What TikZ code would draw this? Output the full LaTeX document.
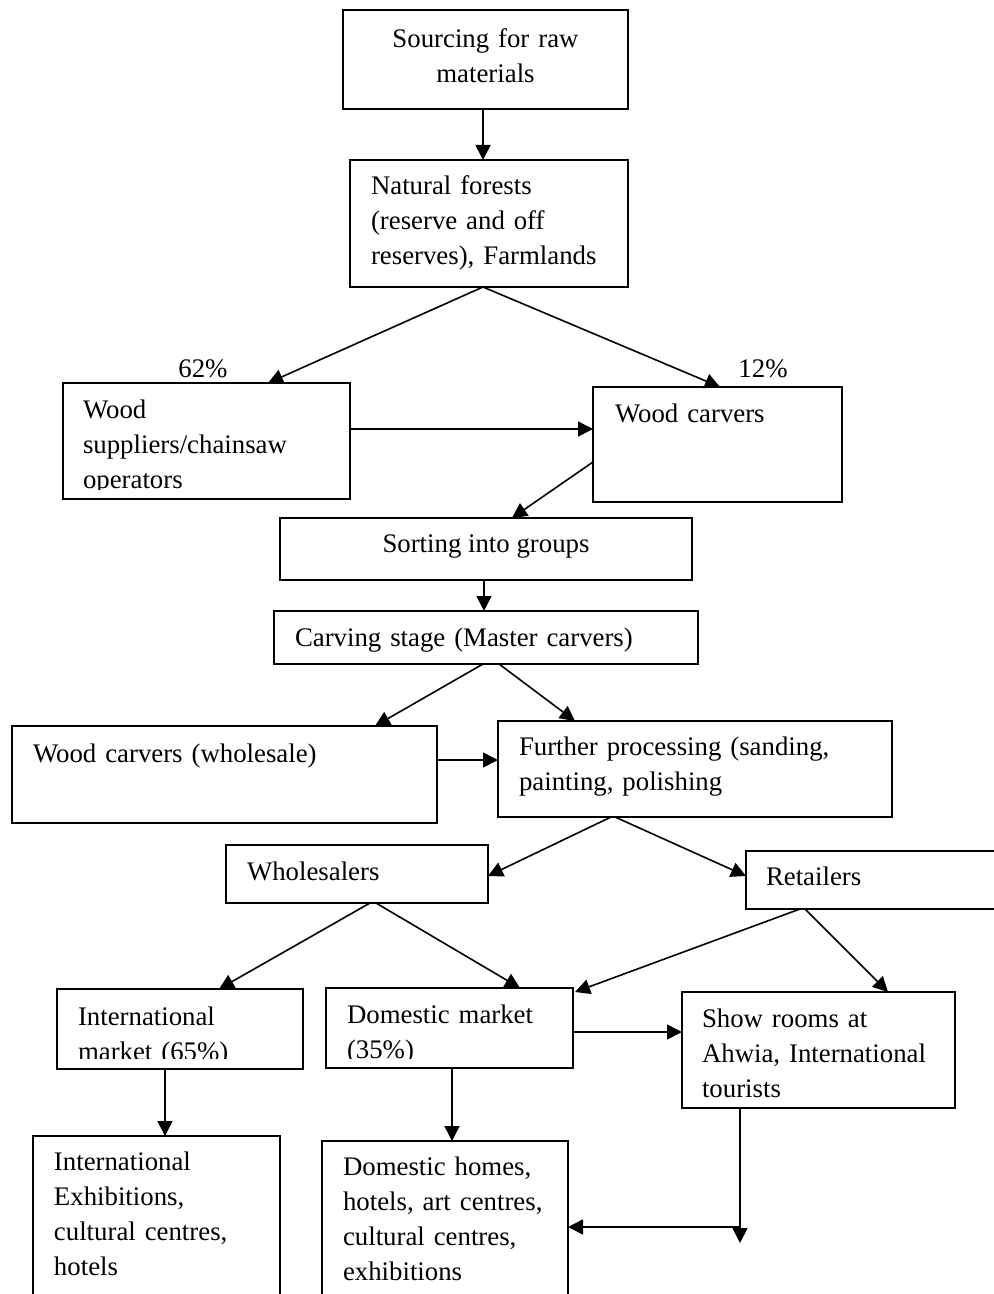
\documentclass[tikz,border=0pt]{standalone}
\usepackage{fontspec}
\setmainfont{Liberation Serif}
\usetikzlibrary{calc,arrows.meta}
\begin{document}
\begin{tikzpicture}[x=0.5pt,y=-0.5pt,
  box/.style={draw, line width=0.8pt, inner sep=0pt, outer sep=0pt, anchor=north west},
  txt/.style={inner sep=0pt, outer sep=0pt, anchor=base west, align=left, text width=260pt, font=\fontsize{13.4}{17.5}\selectfont},
  ctxt/.style={inner sep=0pt, outer sep=0pt, anchor=base, align=center, font=\fontsize{13.4}{17.5}\selectfont},
  conn/.style={line width=0.8pt, -{Triangle[length=7.5pt,width=7.5pt]}},
  lab/.style={inner sep=0pt, outer sep=0pt, anchor=base, font=\fontsize{13.4}{17.5}\selectfont}]
\useasboundingbox (0,0) rectangle (993,1294);
% boxes
\node[box, minimum width=142.5pt, minimum height=49.5pt] (b1) at (343,10) {};
\node[box, minimum width=139pt, minimum height=63.5pt] (b2) at (350,160) {};
\node[box, minimum width=143.5pt, minimum height=58pt] (b3) at (63,383) {};
\node[box, minimum width=124.5pt, minimum height=57.5pt] (b4) at (593,387) {};
\node[box, minimum width=206pt, minimum height=31pt] (b5) at (280,518) {};
\node[box, minimum width=212pt, minimum height=26.5pt] (b6) at (274,611) {};
\node[box, minimum width=212.5pt, minimum height=48.5pt] (b7) at (12,726) {};
\node[box, minimum width=197pt, minimum height=48pt] (b8) at (498,721) {};
\node[box, minimum width=131pt, minimum height=29pt] (b9) at (226,845) {};
\node[box, minimum width=132pt, minimum height=29pt] (b10) at (746,851) {};
\node[box, minimum width=123pt, minimum height=40pt] (b11) at (57,989) {};
\node[box, minimum width=123.5pt, minimum height=40pt] (b12) at (326,988) {};
\node[box, minimum width=136.5pt, minimum height=58pt] (b13) at (682,992) {};
\node[box, minimum width=123.5pt, minimum height=87pt] (b14) at (33,1136) {};
\node[box, minimum width=123pt, minimum height=84.5pt] (b15) at (322,1141) {};
% texts
\node[ctxt, text width=142.5pt] (t1) at (485.5,48) {Sourcing for raw\\materials};
\node[txt] (t2) at (371,195) {Natural forests\\(reserve and off\\reserves), Farmlands};
\begin{scope}
\clip (b3.north west) rectangle ($(b3.north east)+(0,106)$);
\node[txt] (t3) at (83,418) {Wood\\suppliers/chainsaw\\operators};
\end{scope}
\node[txt] (t4) at (615,422) {Wood carvers};
\node[ctxt] (t5) at (486,552) {Sorting into groups};
\node[txt] (t6) at (295,646) {Carving stage (Master carvers)};
\node[txt] (t7) at (33,762) {Wood carvers (wholesale)};
\node[txt] (t8) at (519,755) {Further processing (sanding,\\painting, polishing};
\node[txt] (t9) at (247,880) {Wholesalers};
\node[txt] (t10) at (766,885) {Retailers};
\begin{scope}
\clip ($(b11.north west)+(0,0)$) rectangle ($(b12.north east)+(0,70)$);
\node[txt] (t11) at (78,1025) {International\\market (65\%)};
\node[txt] (t12) at (347,1023) {Domestic market\\(35\%)};
\end{scope}
\node[txt] (t13) at (702,1027) {Show rooms at\\Ahwia, International\\tourists};
\node[txt] (t14) at (54,1170) {International\\Exhibitions,\\cultural centres,\\hotels};
\node[txt] (t15) at (343,1175) {Domestic homes,\\hotels, art centres,\\cultural centres,\\exhibitions};
% labels
\node[lab] (l62) at (203,377) {62\%};
\node[lab] (l12) at (763,377) {12\%};
% connectors
\draw[conn] ($(b1.south west)+(140,0)$) -- ($(b2.north west)+(133,0)$);
\draw[conn] ($(b2.south west)+(133,0)$) -- ($(b3.north west)+(205,0)$);
\draw[conn] ($(b2.south west)+(133,0)$) -- ($(b4.north west)+(127,0)$);
\draw[conn] ($(b3.north east)+(0,46)$) -- ($(b4.north west)+(0,42)$);
\draw[conn] ($(b4.north west)+(0,75)$) -- ($(b5.north west)+(232,0)$);
\draw[conn] ($(b5.south west)+(204,0)$) -- ($(b6.north west)+(210,0)$);
\draw[conn] ($(b6.south west)+(209,0)$) -- ($(b7.north west)+(363,0)$);
\draw[conn] ($(b6.south west)+(225,0)$) -- ($(b8.north west)+(77,0)$);
\draw[conn] ($(b7.north east)+(0,34)$) -- ($(b8.north west)+(0,39)$);
\draw[conn] ($(b8.south west)+(113,0)$) -- ($(b9.north east)+(0,31)$);
\draw[conn] ($(b8.south west)+(117,0)$) -- ($(b10.north west)+(0,25)$);
\draw[conn] ($(b9.south west)+(144,0)$) -- ($(b11.north west)+(162,0)$);
\draw[conn] ($(b9.south west)+(150,0)$) -- ($(b12.north west)+(194,0)$);
\draw[conn] ($(b10.south west)+(54,0)$) -- ($(b12.north east)+(2,4)$);
\draw[conn] ($(b10.south west)+(59,0)$) -- ($(b13.north west)+(206,0)$);
\draw[conn] ($(b11.south west)+(108,0)$) -- ($(b14.north west)+(132,0)$);
\draw[conn] ($(b12.south west)+(126,0)$) -- ($(b15.north west)+(130,0)$);
\draw[conn] ($(b12.north east)+(0,44)$) -- ($(b13.north west)+(0,40)$);
\coordinate (c1) at ($(b13.south west)+(58,135)$);
\coordinate (c2) at ($(b13.south west)+(58,119)$);
\draw[conn] ($(b13.south west)+(58,0)$) -- (c1);
\draw[conn] (c2) -- ($(b15.north east)+(0,86)$);
\end{tikzpicture}
\end{document}
